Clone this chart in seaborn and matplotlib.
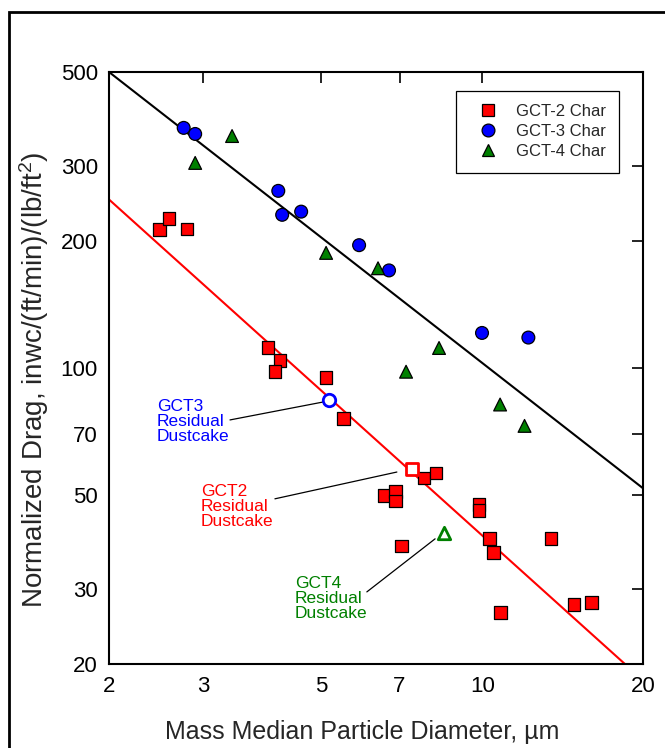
import numpy as np
import pandas as pd
import matplotlib
matplotlib.use("Agg")
import matplotlib.pyplot as plt
import seaborn as sns
from matplotlib.patches import Rectangle
from matplotlib.ticker import FixedLocator, FixedFormatter, NullLocator

# ---------------- data ----------------
gct2_x = [2.49, 2.59, 2.80, 3.97, 4.18, 4.09, 5.10, 5.49, 6.57, 6.89, 6.89, 7.78, 8.19,
          7.07, 9.86, 9.86, 10.3, 10.5, 10.8, 13.45, 14.85, 16.0]
gct2_y = [212, 225, 213, 112, 104, 98, 95, 76, 50, 51, 48.5, 55, 56.5,
          38, 47.7, 46, 39.5, 36.6, 26.5, 39.5, 27.6, 27.9]

gct3_x = [2.76, 2.90, 4.15, 4.22, 4.58, 5.88, 6.69, 9.99, 12.2]
gct3_y = [369, 357, 262, 230, 234, 195, 170, 121, 118]

gct4_x = [2.90, 3.40, 5.10, 6.38, 7.20, 8.30, 10.8, 12.0]
gct4_y = [305, 353, 187, 172, 98, 111.5, 82, 73]

series_names = ["GCT-2 Char", "GCT-3 Char", "GCT-4 Char"]
series_colors = ["#ff0000", "#0000ff", "#008000"]
series_markers = ["s", "o", "^"]

# residual dustcake points (open markers)
resid_labels = ["GCT3\nResidual\nDustcake", "GCT2\nResidual\nDustcake", "GCT4\nResidual\nDustcake"]
resid_x = [5.16, 7.39, 8.48]
resid_y = [84, 57.7, 40.8]
resid_colors = ["#0000ff", "#ff0000", "#008000"]
resid_markers = ["o", "s", "^"]
resid_text_x = [2.46, 2.97, 4.46]
resid_text_y = [74.6, 47.0, 28.6]
leader_x0 = [3.37, 4.09, 6.08]
leader_y0 = [75.4, 49.1, 29.6]
leader_x1 = [5.03, 6.92, 8.16]
leader_y1 = [83.1, 56.8, 39.5]

# fitted lines (endpoints)
black_line_x = [2, 20]
black_line_y = [500, 52]
red_line_x = [2, 18.5]
red_line_y = [250, 20]

x_ticks = [2, 3, 5, 7, 10, 20]
y_ticks = [20, 30, 50, 70, 100, 200, 300, 500]

# ---------------- figure ----------------
sns.set_theme(style="white")
plt.rcParams["font.family"] = ["Liberation Sans", "DejaVu Sans"]
plt.rcParams["mathtext.fontset"] = "custom"
plt.rcParams["mathtext.rm"] = "Liberation Sans"
plt.rcParams["mathtext.it"] = "Liberation Sans:italic"

fig = plt.figure(figsize=(6.65, 7.48), dpi=100)
ax = fig.add_axes([109 / 665, 1 - 664 / 748, 534 / 665, 592 / 748])

df = pd.DataFrame({
    "x": gct2_x + gct3_x + gct4_x,
    "y": gct2_y + gct3_y + gct4_y,
    "series": [series_names[0]] * len(gct2_x) + [series_names[1]] * len(gct3_x)
              + [series_names[2]] * len(gct4_x),
})

ax.set_xscale("log")
ax.set_yscale("log")

sns.lineplot(x=black_line_x, y=black_line_y, color="black", linewidth=1.5, ax=ax, legend=False)
sns.lineplot(x=red_line_x, y=red_line_y, color="#ff0000", linewidth=1.5, ax=ax, legend=False)

sns.scatterplot(data=df, x="x", y="y", hue="series", style="series",
                hue_order=series_names, style_order=series_names,
                palette=dict(zip(series_names, series_colors)),
                markers=dict(zip(series_names, series_markers)),
                s=85, edgecolor="black", linewidth=0.9, ax=ax, zorder=5)

for i in range(3):
    ax.scatter([resid_x[i]], [resid_y[i]], marker=resid_markers[i], s=80,
               facecolor="white", edgecolor=resid_colors[i], linewidth=2, zorder=6)
    ax.plot([leader_x0[i], leader_x1[i]], [leader_y0[i], leader_y1[i]],
            color="black", linewidth=0.9, zorder=4)
    ax.text(resid_text_x[i], resid_text_y[i], resid_labels[i], color=resid_colors[i],
            fontsize=12.5, ha="left", va="center", linespacing=1.0)

ax.set_xlim(2, 20)
ax.set_ylim(20, 500)

ax.xaxis.set_major_locator(FixedLocator(x_ticks))
ax.xaxis.set_major_formatter(FixedFormatter([str(t) for t in x_ticks]))
ax.xaxis.set_minor_locator(NullLocator())
ax.yaxis.set_major_locator(FixedLocator(y_ticks))
ax.yaxis.set_major_formatter(FixedFormatter([str(t) for t in y_ticks]))
ax.yaxis.set_minor_locator(NullLocator())

ax.tick_params(axis="both", which="major", direction="in", length=8, width=1.2,
               top=True, right=True, labelsize=16, colors="black")
ax.tick_params(axis="x", pad=9)
ax.tick_params(axis="y", pad=8)
for sp in ax.spines.values():
    sp.set_visible(True)
    sp.set_color("black")
    sp.set_linewidth(1.5)

ax.set_xlabel("Mass Median Particle Diameter, µm", fontsize=18)
ax.xaxis.set_label_coords(0.475, -0.095)
ax.set_ylabel("Normalized Drag, inwc/(ft/min)/(lb/ft$^2$)", fontsize=20)
ax.yaxis.set_label_coords(-0.108, 0.48)

leg = ax.legend(loc="upper right", bbox_to_anchor=(0.955, 0.968), fontsize=12,
                frameon=True, fancybox=False, framealpha=1, edgecolor="black",
                handlelength=2.16, handletextpad=0.6, borderpad=0.8,
                labelspacing=0.3, borderaxespad=0)
leg.get_frame().set_linewidth(0.9)

fig.add_artist(Rectangle((9 / 665, -0.1), 2.0, 1.1 - 12 / 748, transform=fig.transFigure,
                         fill=False, edgecolor="black", linewidth=2))

fig.savefig("out.png", dpi=100)
